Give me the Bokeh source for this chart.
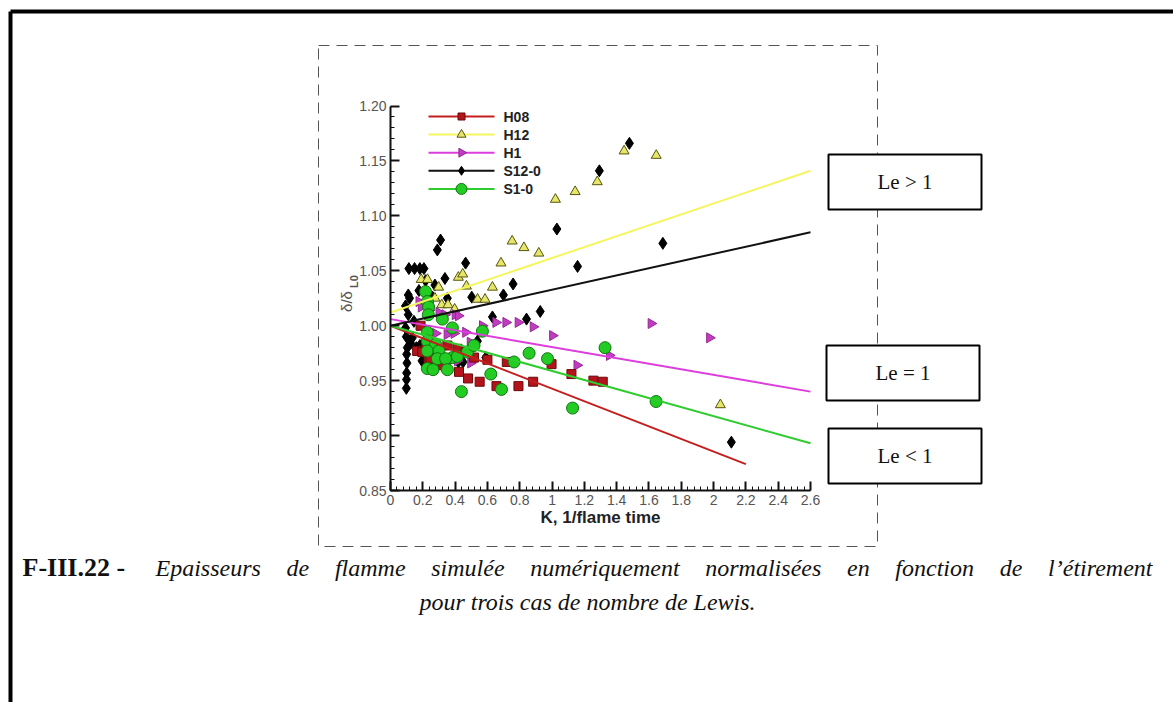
import glob
import numpy as np
from bokeh.plotting import figure
from bokeh.models import Range1d, LinearAxis, FixedTicker, CustomJSTickFormatter
from bokeh.core.properties import value
from bokeh.embed import file_html
from bokeh.resources import INLINE

# ------------------------------------------------------------------ data
series_names = ["H08", "H12", "H1", "S12-0", "S1-0"]

h08_k = [0.165, 0.186, 0.197, 0.220, 0.236, 0.248, 0.280, 0.321, 0.352, 0.414, 0.424, 0.465,
         0.480, 0.517, 0.552, 0.600, 0.656, 0.720, 0.792, 0.883, 0.997, 1.120, 1.256, 1.314]
h08_d = [0.977, 1.000, 0.976, 0.983, 0.970, 0.970, 0.978, 0.964, 0.982, 0.979, 0.958, 0.976,
         0.952, 0.971, 0.949, 0.969, 0.945, 0.967, 0.945, 0.949, 0.965, 0.956, 0.950, 0.949]

h12_k = [0.190, 0.229, 0.275, 0.298, 0.317, 0.356, 0.397, 0.420, 0.447, 0.470, 0.539, 0.585,
         0.631, 0.684, 0.753, 0.826, 0.918, 1.021, 1.143, 1.280, 1.446, 1.645, 2.042]
h12_d = [1.042, 1.042, 1.025, 1.035, 1.019, 1.019, 1.015, 1.044, 1.047, 1.036, 1.024, 1.024,
         1.035, 1.057, 1.077, 1.071, 1.066, 1.115, 1.122, 1.131, 1.159, 1.155, 0.928]

h1_k = [0.176, 0.190, 0.186, 0.195, 0.229, 0.240, 0.279, 0.287, 0.300, 0.337, 0.350, 0.372,
        0.393, 0.400, 0.414, 0.420, 0.465, 0.493, 0.496, 0.569, 0.652, 0.714, 0.790, 0.883,
        1.003, 1.154, 1.355, 1.613, 1.975]
h1_d = [1.022, 1.017, 1.000, 0.977, 0.993, 1.014, 0.993, 0.967, 1.012, 1.010, 0.992, 0.968,
        0.993, 1.010, 0.968, 1.009, 0.994, 0.985, 0.966, 1.000, 1.003, 1.003, 1.003, 0.999,
        0.991, 0.964, 0.973, 1.002, 0.989]

s12_k = [0.098, 0.099, 0.100, 0.102, 0.100, 0.104, 0.098, 0.093, 0.110, 0.145, 0.093, 0.118,
         0.110, 0.176, 0.217, 0.114, 0.149, 0.182, 0.207, 0.275, 0.337, 0.290, 0.310, 0.352,
         0.260, 0.465, 0.503, 0.538, 0.590, 0.449, 0.420, 0.160, 0.182, 0.190, 0.172, 0.195,
         0.125, 0.135, 0.631, 0.699, 0.759, 0.842, 0.927, 1.030, 1.158, 1.293, 1.479, 1.686,
         2.110]
s12_d = [0.943, 0.951, 0.957, 0.966, 0.974, 0.980, 0.990, 0.998, 1.010, 1.004, 1.018, 1.025,
         1.028, 1.032, 1.041, 1.052, 1.052, 1.052, 1.052, 1.037, 1.043, 1.069, 1.078, 1.025,
         1.026, 1.057, 1.026, 0.986, 0.971, 0.967, 0.967, 0.980, 0.982, 0.979, 0.979, 0.968,
         0.984, 0.989, 1.008, 1.028, 1.038, 1.006, 1.013, 1.088, 1.054, 1.141, 1.166, 1.075,
         0.894]

s1_k = [0.217, 0.228, 0.236, 0.234, 0.321, 0.228, 0.383, 0.569, 0.228, 0.279, 0.228, 0.300,
        0.383, 0.476, 0.517, 0.290, 0.341, 0.414, 0.228, 0.263, 0.352, 0.621, 0.439, 0.687,
        0.765, 0.858, 0.972, 1.127, 1.328, 1.644]
s1_d = [1.031, 1.022, 1.017, 1.010, 1.006, 0.994, 0.998, 0.995, 0.986, 0.983, 0.977, 0.977,
        0.971, 0.976, 0.982, 0.970, 0.970, 0.972, 0.961, 0.960, 0.960, 0.956, 0.940, 0.942,
        0.967, 0.975, 0.970, 0.925, 0.980, 0.931]

# linear fits for each series, same order as series_names
fit_k_start = [0.0, 0.0, 0.0, 0.0, 0.0]
fit_k_end = [2.2, 2.6, 2.6, 2.6, 2.6]
fit_d_start = [1.000, 1.012, 1.006, 1.000, 1.000]
fit_d_end = [0.874, 1.141, 0.940, 1.085, 0.893]

x_bounds = (0.0, 2.6)
y_bounds = (0.85, 1.20)
x_major_ticks = [0.0, 0.2, 0.4, 0.6, 0.8, 1.0, 1.2, 1.4, 1.6, 1.8, 2.0, 2.2, 2.4, 2.6]
y_major_ticks = [0.85, 0.90, 0.95, 1.00, 1.05, 1.10, 1.15, 1.20]
x_minor_step = 0.04
y_minor_step = 0.01

x_title = "K, 1/flame time"
y_title_main = "δ/δ"
y_title_sub = "L0"
le_labels = ["Le > 1", "Le = 1", "Le < 1"]
caption_head = "F-III.22 -"
caption_line1 = "Epaisseurs de flamme simulée numériquement normalisées en fonction de l’étirement"
caption_line2 = "pour trois cas de nombre de Lewis."

# ------------------------------------------------------------------ layout (page pixels)
W, H = 1173, 702
M = 0
PX0, PX1 = 390.0, 810.0     # page x of K = 0 and K = 2.6
PY0, PY1 = 490.0, 105.5     # page y of 0.85 and 1.20


def fx(x):
    return x - M


def fy(y):
    return y - M


p = figure(width=W, height=H, x_range=Range1d(0, W), y_range=Range1d(H, 0),
           x_axis_type=None, y_axis_type=None, min_border=0,
           toolbar_location=None, output_backend="svg",
           outline_line_color=None, background_fill_color="white",
           border_fill_color="white")

kpp = (x_bounds[1] - x_bounds[0]) / (fx(PX1) - fx(PX0))
dpp = (y_bounds[1] - y_bounds[0]) / (fy(PY0) - fy(PY1))
p.extra_x_ranges = {"k": Range1d(x_bounds[0] - fx(PX0) * kpp,
                                 x_bounds[0] + (W - fx(PX0)) * kpp)}
p.extra_y_ranges = {"d": Range1d(y_bounds[0] - (H - fy(PY0)) * dpp,
                                 y_bounds[1] + fy(PY1) * dpp)}

# ---------------------------------------------------------------- page decorations
p.line([fx(10), fx(10)], [H + 5, fy(11)], line_color="black", line_width=4)
p.line([fx(10), W + 5], [fy(11), fy(11)], line_color="black", line_width=4)

bx0, bx1, by0, by1 = 318, 877, 45, 546
p.line([fx(bx0), fx(bx1), fx(bx1), fx(bx0), fx(bx0)],
       [fy(by0), fy(by0), fy(by1), fy(by1), fy(by0)],
       line_color="#555555", line_width=1, line_dash="11 7")

# ---------------------------------------------------------------- axes
x_minor = [round(v, 3) for v in np.arange(x_bounds[0], x_bounds[1] + 1e-9, x_minor_step)]
y_minor = [round(v, 3) for v in np.arange(y_bounds[0], y_bounds[1] + 1e-9, y_minor_step)]
xaxis = LinearAxis(x_range_name="k", y_range_name="d", fixed_location=y_bounds[0],
                   bounds=x_bounds,
                   ticker=FixedTicker(ticks=x_major_ticks, minor_ticks=x_minor),
                   formatter=CustomJSTickFormatter(code="return String(Math.round(tick*10)/10)"),
                   axis_label=x_title)
yaxis = LinearAxis(x_range_name="k", y_range_name="d", fixed_location=x_bounds[0],
                   bounds=y_bounds,
                   ticker=FixedTicker(ticks=y_major_ticks, minor_ticks=y_minor),
                   formatter=CustomJSTickFormatter(code="return tick.toFixed(2)"))
for ax in (xaxis, yaxis):
    ax.axis_line_width = 2
    ax.axis_line_color = "#111111"
    ax.major_tick_in = 9
    ax.major_tick_out = 0
    ax.minor_tick_in = 4
    ax.minor_tick_out = 0
    ax.major_tick_line_width = 2
    ax.major_tick_line_color = "#111111"
    ax.minor_tick_line_width = 1
    ax.minor_tick_line_color = "#111111"
    ax.major_label_text_font = "Liberation Sans"
    ax.major_label_text_font_size = "14px"
    ax.major_label_text_color = "#555555"
    ax.major_label_standoff = 4
xaxis.axis_label_text_font = "Liberation Sans"
xaxis.axis_label_text_font_style = "bold"
xaxis.axis_label_text_font_size = "17px"
xaxis.axis_label_text_color = "#222222"
xaxis.axis_label_standoff = 0
p.add_layout(xaxis, "below")
p.add_layout(yaxis, "left")

# y title (rotated) with subscript
p.text(x=[fx(346)], y=[fy(301)], text=[y_title_main], angle=np.pi / 2,
       text_font=value("Liberation Sans"), text_font_size="15px", text_color="#555555",
       text_align="center", text_baseline="middle")
p.text(x=[fx(353)], y=[fy(281)], text=[y_title_sub], angle=np.pi / 2,
       text_font=value("Liberation Sans"), text_font_size="11px", text_font_style="bold",
       text_color="#555555", text_align="center", text_baseline="middle")

# ---------------------------------------------------------------- data marks
styles = {
    "H08": dict(marker="square", size=9, key=7, fill="#b3141b", edge="#6b0a0a", line="#c41e1e", angle=0.0),
    "H12": dict(marker="triangle", size=10, key=9, fill="#e6e66a", edge="#55550f", line="#f5f55e", angle=0.0),
    "H1": dict(marker="triangle", size=10, key=9, fill="#c23cc2", edge="#952895", line="#dd3ddd", angle=-np.pi / 2),
    "S12-0": dict(marker="diamond", size=12, key=9, fill="#000000", edge="#000000", line="#111111", angle=0.0),
    "S1-0": dict(marker="circle", size=12, key=11, fill="#22cc22", edge="#137513", line="#2ecc2e", angle=0.0),
}
data = {
    "H08": (h08_k, h08_d),
    "H12": (h12_k, h12_d),
    "H1": (h1_k, h1_d),
    "S12-0": (s12_k, s12_d),
    "S1-0": (s1_k, s1_d),
}

for name in ["S12-0", "H12", "H1", "H08", "S1-0"]:
    st = styles[name]
    k, d = data[name]
    p.scatter(k, d, marker=st["marker"], size=st["size"], angle=st["angle"],
              fill_color=st["fill"], line_color=st["edge"], line_width=1,
              x_range_name="k", y_range_name="d")

for i, name in enumerate(series_names):
    st = styles[name]
    p.line([fit_k_start[i], fit_k_end[i]], [fit_d_start[i], fit_d_end[i]],
           line_color=st["line"], line_width=2, x_range_name="k", y_range_name="d")

# ---------------------------------------------------------------- legend (key samples)
leg_x0, leg_x1, leg_mark_x, leg_text_x = 428, 494, 461, 503
leg_y0, leg_dy = 116, 18.1
for i, name in enumerate(series_names):
    st = styles[name]
    yy = fy(leg_y0 + i * leg_dy)
    p.line([fx(leg_x0), fx(leg_x1)], [yy, yy], line_color=st["line"], line_width=2)
    p.scatter([fx(leg_mark_x)], [yy], marker=st["marker"], size=st["key"], angle=st["angle"],
              fill_color=st["fill"], line_color=st["edge"], line_width=1)
p.text(x=[fx(leg_text_x)] * len(series_names),
       y=[fy(leg_y0 + i * leg_dy) for i in range(len(series_names))],
       text=series_names, text_font=value("Liberation Sans"), text_font_style="bold",
       text_font_size="14px", text_color="#222222", text_align="left", text_baseline="middle")

# ---------------------------------------------------------------- Lewis boxes
boxes = [(828, 981, 154, 209), (826, 979, 345, 400), (828, 981, 428, 483)]
p.quad(left=[fx(b[0]) for b in boxes], right=[fx(b[1]) for b in boxes],
       top=[fy(b[2]) for b in boxes], bottom=[fy(b[3]) for b in boxes],
       fill_color="white", line_color="black", line_width=2)
p.text(x=[fx((b[0] + b[1]) / 2) for b in boxes], y=[fy((b[2] + b[3]) / 2) for b in boxes],
       text=le_labels, text_font=value("Liberation Serif"), text_font_size="21px",
       text_color="#111111", text_align="center", text_baseline="middle")

# ---------------------------------------------------------------- caption


def find_font(fname):
    for pat in ["/usr/share/fonts/**/" + fname, "/usr/local/share/fonts/**/" + fname]:
        hits = glob.glob(pat, recursive=True)
        if hits:
            return hits[0]
    return None


def text_width(s, fname, size, em=0.42):
    path = find_font(fname)
    if path:
        try:
            from PIL import ImageFont
            return ImageFont.truetype(path, size).getlength(s)
        except Exception:
            pass
    return len(s) * size * em


CAP_SIZE = 24
cap_y1, cap_y2 = 567, 601
p.text(x=[fx(22)], y=[fy(cap_y1)], text=[caption_head], text_font=value("Liberation Serif"),
       text_font_size=f"{CAP_SIZE + 2}px", text_font_style="bold", text_color="#111111",
       text_align="left", text_baseline="middle")

words = caption_line1.split(" ")
x_start, x_end = 155.0, 1152.0
widths = [text_width(w, "LiberationSerif-Italic.ttf", CAP_SIZE) for w in words]
gap = (x_end - x_start - sum(widths)) / (len(words) - 1)
xs, cur = [], x_start
for wdt in widths:
    xs.append(fx(cur))
    cur += wdt + gap
p.text(x=xs, y=[fy(cap_y1)] * len(words), text=words, text_font=value("Liberation Serif"),
       text_font_size=f"{CAP_SIZE}px", text_font_style="italic", text_color="#111111",
       text_align="left", text_baseline="middle")
p.text(x=[fx(587)], y=[fy(cap_y2)], text=[caption_line2], text_font=value("Liberation Serif"),
       text_font_size=f"{CAP_SIZE}px", text_font_style="italic", text_color="#111111",
       text_align="center", text_baseline="middle")

open("out.html", "w").write(file_html(p, INLINE))
